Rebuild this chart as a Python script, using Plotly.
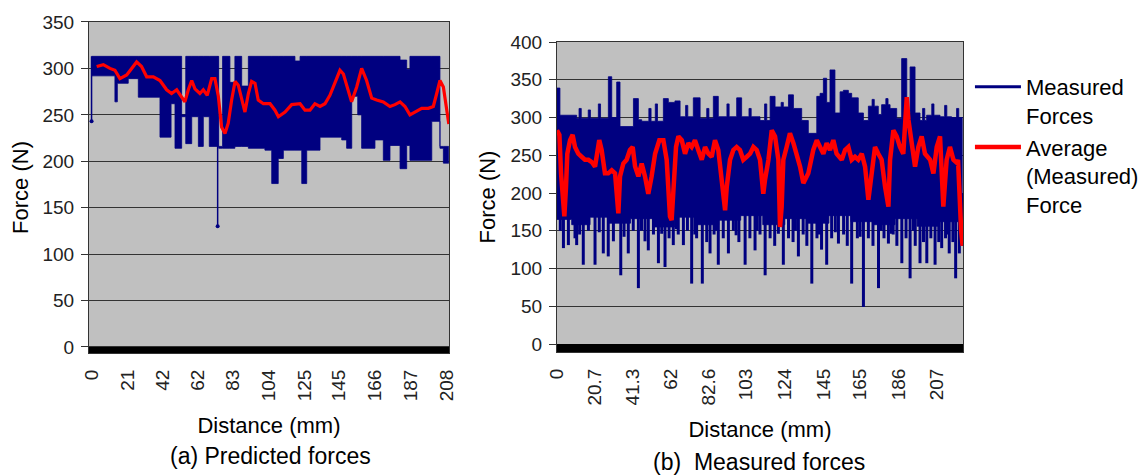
import plotly.graph_objects as go

# ---------------- (a) Predicted forces ----------------
pred_x_ticks = [0, 21, 42, 62, 83, 104, 125, 145, 166, 187, 208]
# step blocks of the predicted force band: block edges (mm), top / bottom force (N)
pred_block_edges = [0, 13.7, 15.1, 21.5, 27.4, 40.1, 46.6, 48.9, 52.8, 55.2, 58.7, 62.6,
                    65.5, 69.0, 74.5, 76.8, 81.1, 84.0, 88.0, 91.9, 101.6, 105.6, 109.4,
                    112.4, 119.2, 122.2, 123.2, 126.1, 133.9, 146.6, 149.5, 152.5, 156.0,
                    158.3, 166.1, 171.0, 174.9, 180.8, 184.7, 186.6, 199.4, 204.2, 206.2, 209.4]
pred_block_top = [313, 313, 313, 313, 313, 313, 313, 313, 250, 313, 313, 313,
                  313, 313, 216, 313, 285, 313, 281, 313, 313, 313, 313,
                  313, 308, 313, 313, 313, 313, 313, 313, 313, 313,
                  313, 313, 313, 313, 309, 299, 313, 313, 216, 216]
pred_block_bottom = [292, 264, 284, 289, 269, 226, 262, 214, 248, 219, 248, 216,
                     248, 216, 214, 214, 214, 216, 216, 214, 212, 176, 203,
                     212, 212, 212, 176, 212, 226, 223, 214, 270, 250,
                     214, 223, 201, 217, 192, 217, 201, 243, 214, 198]
pred_spike_d = [0, 73.9]
pred_spike_top = [313, 313]
pred_spike_force = [243, 130]
pred_avg_d = [3.0, 6.9, 10.8, 13.7, 16.6, 20.6, 23.5, 26.4, 29.3, 32.3, 36.2, 40.1, 44.0,
              46.9, 49.9, 52.8, 54.7, 56.7, 58.7, 60.6, 63.5, 65.5, 67.8, 70.4, 72.3, 74.3,
              76.2, 78.2, 80.1, 82.1, 84.1, 86.0, 88.0, 89.9, 91.9, 93.8, 95.8, 97.7, 100.7,
              104.6, 107.5, 109.5, 113.4, 117.3, 122.2, 125.1, 128.0, 130.9, 133.9, 136.8,
              139.7, 142.7, 145.6, 147.6, 150.5, 152.4, 155.4, 158.3, 161.2, 164.2, 167.1,
              171.0, 174.9, 177.8, 180.8, 183.7, 186.6, 189.6, 193.5, 197.4, 200.3, 202.3,
              204.2, 206.2, 208.1, 209.4]
pred_avg_force = [302, 304, 300, 298, 289, 293, 300, 307, 302, 291, 291, 287, 277,
                  273, 277, 270, 264, 277, 287, 278, 273, 277, 271, 289, 289, 270,
                  237, 230, 241, 266, 286, 282, 266, 253, 273, 286, 284, 266, 262,
                  262, 255, 248, 253, 261, 262, 255, 255, 262, 259, 262,
                  271, 284, 298, 294, 277, 264, 280, 300, 287, 268, 266,
                  264, 259, 261, 264, 259, 250, 253, 257, 257, 259, 273,
                  287, 280, 255, 240]

# ---------------- (b) Measured forces ----------------
meas_x_ticks = [0, 20.7, 41.3, 62, 82.6, 103, 124, 145, 165, 186, 207]
meas_top_d = [0, 1.6, 10.7, 12.0, 13.2, 17.0, 18.2, 22.5, 23.7, 27.95, 29.8, 32.5, 34.3,
              41.6, 44.3, 46.1, 50.0, 51.2, 53.5, 54.7, 57.9, 60.6, 64.2, 67.0, 70.0,
              71.2, 74.2, 77.9, 81.5, 82.7, 85.1, 87.8, 92.5, 93.7, 97.8, 100.5, 104.5,
              105.7, 110.5, 113.0, 114.2, 116.0, 118.7, 122.0, 123.2, 126.0, 128.7, 133.2,
              136.8, 141.4, 143.2, 145.0, 146.8, 148.6, 151.3, 154.1, 155.9, 158.6, 160.4,
              164.0, 166.8, 169.5, 171.5, 172.7, 174.9, 176.7, 179.0, 180.2, 181.3, 184.9,
              187.6, 190.4, 192.2, 194.9, 197.6, 199.0, 200.2, 201.2, 204.0, 205.2, 208.5,
              211.0, 212.2, 214.8, 217.5, 218.7, 220.8]
meas_top_force = [339, 303, 299, 312, 299, 310, 299, 318, 299, 354, 300, 347, 288,
                  325, 297, 295, 312, 295, 318, 295, 325, 320, 322, 301, 316,
                  301, 326, 299, 312, 299, 328, 301, 318, 301, 326, 301, 312,
                  301, 296, 318, 296, 328, 314, 320, 314, 330, 312, 296,
                  279, 328, 332, 352, 320, 363, 306, 334, 336, 332, 326,
                  306, 296, 315, 324, 315, 304, 317, 325, 317, 312, 299,
                  378, 306, 367, 306, 296, 312, 296, 303, 318, 303, 301,
                  316, 301, 300, 312, 300, 300]
meas_core_low_d = [0, 8, 18, 28, 40, 52, 64, 76, 88, 100, 112, 124, 136, 148, 160, 172,
                   184, 196, 208, 220.8]
meas_core_low_force = [165, 158, 168, 160, 166, 155, 168, 158, 164, 170, 158, 166, 160,
                       170, 162, 158, 166, 156, 162, 160]
meas_spike_d = [3.5, 6.2, 9.8, 10.7, 14.3, 17.1, 20.7, 25.2, 27.9, 30.7, 34.7, 38.8, 41.5,
                44.3, 47.9, 49.7, 52.5, 55.2, 58.8, 61.0, 63.3, 66.0, 68.8, 71.0, 73.3,
                76.0, 79.1, 81.5, 83.3, 85.5, 87.8, 90.5, 93.3, 96.0, 99.0, 102.4, 105.0,
                107.8, 110.5, 113.3, 116.0, 118.5, 123.2, 126.0, 128.5, 131.4, 134.0,
                136.0, 138.7, 141.5, 144.0, 146.8, 149.5, 153.2, 156.0, 158.0, 160.4,
                163.5, 166.8, 169.5, 172.0, 175.0, 178.0, 180.4, 183.0, 185.0, 187.7,
                190.0, 192.2, 195.0, 197.6, 199.5, 201.3, 203.5, 205.8, 207.8, 209.4,
                211.5, 213.5, 215.5, 217.0, 219.0, 220.5,
                1.8, 12.3, 23.0, 36.5, 46.0, 57.0, 65.0, 75.0, 86.5, 97.5, 109.0, 120.5,
                129.8, 142.8, 151.5, 165.0, 176.5, 182.0, 194.0, 212.5]
meas_spike_force = [127, 131, 140, 131, 105, 150, 105, 120, 116, 136, 91, 120, 150,
                    74, 136, 124, 145, 107, 102, 140, 131, 145, 131, 150, 80,
                    140, 80, 135, 120, 145, 105, 140, 120, 150, 135, 105, 140,
                    124, 145, 91, 140, 130, 105, 140, 135, 116, 145,
                    130, 80, 140, 125, 105, 140, 133, 145, 130, 80,
                    140, 49, 140, 130, 74, 140, 133, 145, 130, 107,
                    140, 87, 130, 107, 135, 107, 140, 105, 135, 127,
                    140, 120, 135, 87, 120, 130,
                    150, 145, 148, 142, 150, 146, 152, 145, 150, 144, 150, 146,
                    150, 145, 148, 142, 150, 146, 150, 145]
meas_spike_from = 200
meas_avg_d = [0, 1.3, 2.2, 3.1, 4.0, 4.9, 5.6, 7.1, 8.5, 9.8, 11.6, 13.4, 15.2, 17.1, 18.9,
              20.7, 21.6, 23.0, 24.3, 26.1, 27.9, 29.8, 31.6, 32.5, 33.4, 34.3, 36.1, 37.9,
              39.7, 41.2, 42.5, 44.3, 46.1, 47.9, 49.7, 51.5, 53.4, 55.7, 57.9, 59.7, 61.5,
              62.4, 63.3, 64.8, 66.1, 67.9, 69.7, 71.5, 73.3, 75.1, 76.9, 78.8, 80.6, 82.4,
              84.2, 86.0, 87.8, 89.6, 91.5, 92.4, 94.2, 96.0, 97.8, 99.6, 101.4, 103.3,
              105.1, 106.9, 108.7, 110.5, 112.3, 113.2, 115.1, 116.9, 118.7, 120.5, 121.4,
              122.3, 123.2, 125.0, 126.8, 128.7, 130.5, 132.3, 134.1, 136.8, 139.5, 141.4,
              143.2, 145.0, 146.8, 148.6, 150.4, 152.2, 155.0, 156.8, 158.6, 160.4, 162.2,
              164.0, 165.9, 167.7, 169.5, 171.3, 173.1, 174.9, 176.7, 178.6, 180.4, 181.3,
              183.1, 184.9, 186.7, 188.5, 190.4, 191.3, 193.1, 194.9, 196.7, 198.5, 200.3,
              203.1, 204.9, 206.7, 208.5, 210.3, 212.1, 213.9, 215.8, 217.6, 218.3, 219.0,
              220.0, 220.8]
meas_avg_force = [283, 277, 226, 195, 169, 208, 252, 270, 277, 261, 252, 248, 244, 244, 241,
                  235, 252, 270, 257, 226, 226, 230, 226, 199, 173, 222, 239, 244,
                  257, 261, 235, 222, 239, 222, 199, 222, 252, 270, 270, 244, 169,
                  164, 208, 261, 275, 270, 252, 266, 261, 270, 257, 244, 261, 252,
                  248, 270, 257, 222, 177, 208, 244, 257, 261, 257, 244, 248,
                  252, 261, 257, 244, 199, 217, 244, 283, 275, 244, 155,
                  182, 244, 261, 279, 266, 252, 235, 213, 226, 257, 270,
                  261, 252, 266, 257, 270, 252, 244, 257, 261, 244, 248,
                  244, 252, 235, 191, 226, 261, 252, 244, 208, 182, 244,
                  283, 275, 261, 252, 327, 297, 261, 235, 261, 275, 252,
                  244, 226, 261, 275, 182, 244, 261, 244, 240, 244, 200,
                  150, 130]

FONT = "Liberation Sans, Arial, sans-serif"
NAVY = "#000080"
RED = "#ff0000"
GREY = "#c0c0c0"
DARK = "#333333"

fig = go.Figure()

# ----- left panel -----
fig.add_trace(go.Scatter(
    x=pred_block_edges, y=pred_block_top + [pred_block_top[-1]],
    mode="lines", line=dict(color=NAVY, width=0.8, shape="hv"),
    xaxis="x", yaxis="y", showlegend=False, hoverinfo="skip"))
fig.add_trace(go.Scatter(
    x=pred_block_edges, y=pred_block_bottom + [pred_block_bottom[-1]],
    mode="lines", line=dict(color=NAVY, width=0.8, shape="hv"),
    fill="tonexty", fillcolor=NAVY,
    xaxis="x", yaxis="y", showlegend=False, hoverinfo="skip"))
sx, sy = [], []
for d, t, v in zip(pred_spike_d, pred_spike_top, pred_spike_force):
    sx += [d, d, None]
    sy += [t, v, None]
fig.add_trace(go.Scatter(x=sx, y=sy, mode="lines", line=dict(color=NAVY, width=1.5),
                         xaxis="x", yaxis="y", showlegend=False, hoverinfo="skip"))
fig.add_trace(go.Scatter(x=pred_spike_d, y=pred_spike_force, mode="markers",
                         marker=dict(color=NAVY, size=4),
                         xaxis="x", yaxis="y", showlegend=False, hoverinfo="skip"))
fig.add_trace(go.Scatter(x=pred_avg_d, y=pred_avg_force, mode="lines",
                         line=dict(color=RED, width=3.2),
                         xaxis="x", yaxis="y", showlegend=False))

# ----- right panel -----
fig.add_trace(go.Scatter(
    x=meas_top_d, y=meas_top_force, mode="lines",
    line=dict(color=NAVY, width=0.8, shape="hv"),
    xaxis="x2", yaxis="y2", showlegend=False, hoverinfo="skip"))
fig.add_trace(go.Scatter(
    x=meas_core_low_d, y=meas_core_low_force, mode="lines",
    line=dict(color=NAVY, width=0.8, shape="hv"),
    fill="tonexty", fillcolor=NAVY,
    xaxis="x2", yaxis="y2", showlegend=False, hoverinfo="skip"))
mx, my = [], []
for d, v in zip(meas_spike_d, meas_spike_force):
    mx += [d, d, None]
    my += [meas_spike_from, v, None]
fig.add_trace(go.Scatter(x=mx, y=my, mode="lines", line=dict(color=NAVY, width=3),
                         name="Measured<br>Forces", legendgroup="m",
                         xaxis="x2", yaxis="y2", showlegend=True))
fig.add_trace(go.Scatter(x=meas_avg_d, y=meas_avg_force, mode="lines",
                         line=dict(color=RED, width=4.5),
                         name="Average<br>(Measured)<br>Force", legendgroup="a",
                         xaxis="x2", yaxis="y2", showlegend=True))

tick_font = dict(family=FONT, size=19, color="#222222")
title_font = dict(family=FONT, size=22, color="black")

def xaxis(domain, rng, ticks, anchor):
    return dict(domain=domain, range=rng, anchor=anchor, automargin=False,
                tickmode="array", tickvals=ticks,
                ticktext=[str(t) for t in ticks], tickangle=-90, ticks="",
                ticklabelstandoff=8, showgrid=False, zeroline=False,
                showline=True, mirror=True, linecolor=DARK, linewidth=1,
                tickfont=tick_font,
                title=dict(text="Distance (mm)", font=title_font, standoff=17))

def yaxis(domain, rng, top, anchor):
    return dict(domain=domain, range=rng, anchor=anchor, automargin=False,
                tickmode="array",
                tickvals=list(range(0, top + 1, 50)), ticks="outside", ticklen=7,
                tickcolor=DARK, ticklabelstandoff=3, showgrid=True, gridcolor=DARK,
                gridwidth=1, zeroline=False, showline=True, mirror=True,
                linecolor=DARK, linewidth=1, tickfont=tick_font,
                title=dict(text="Force (N)", font=title_font, standoff=8))

fig.update_layout(
    width=1146, height=476,
    margin=dict(l=0, r=0, t=0, b=0),
    paper_bgcolor="white", plot_bgcolor=GREY,
    font=dict(family=FONT),
    xaxis=xaxis([0.07068, 0.38482], [-1.5, 209.5], pred_x_ticks, "y"),
    yaxis=yaxis([0.27521, 0.97059], [-6.5, 350], 350, "x"),
    xaxis2=xaxis([0.47906, 0.83333], [0, 221], meas_x_ticks, "y2"),
    yaxis2=yaxis([0.27731, 0.92857], [-10.6, 400], 400, "x2"),
    legend=dict(x=0.8394, y=0.878, xanchor="left", yanchor="top",
                font=dict(family=FONT, size=22, color="black"),
                bgcolor="rgba(0,0,0,0)", tracegroupgap=31, valign="top",
                itemwidth=46, traceorder="normal"),
    shapes=[
        dict(type="rect", xref="x domain", yref="y", x0=0, x1=1, y0=-6.5, y1=0,
             fillcolor="black", line=dict(width=0), layer="above"),
        dict(type="rect", xref="x2 domain", yref="y2", x0=0, x1=1, y0=-10.6, y1=0,
             fillcolor="black", line=dict(width=0), layer="above"),
    ],
    annotations=[
        dict(text="(a) Predicted forces", xref="paper", yref="paper", x=0.2293, y=0.0588,
             xanchor="center", yanchor="middle", showarrow=False,
             font=dict(family=FONT, size=23, color="black")),
        dict(text="(b)  Measured forces", xref="paper", yref="paper", x=0.6553, y=0.0462,
             xanchor="center", yanchor="middle", showarrow=False,
             font=dict(family=FONT, size=23, color="black")),
    ],
)

fig.write_html("out.html")
